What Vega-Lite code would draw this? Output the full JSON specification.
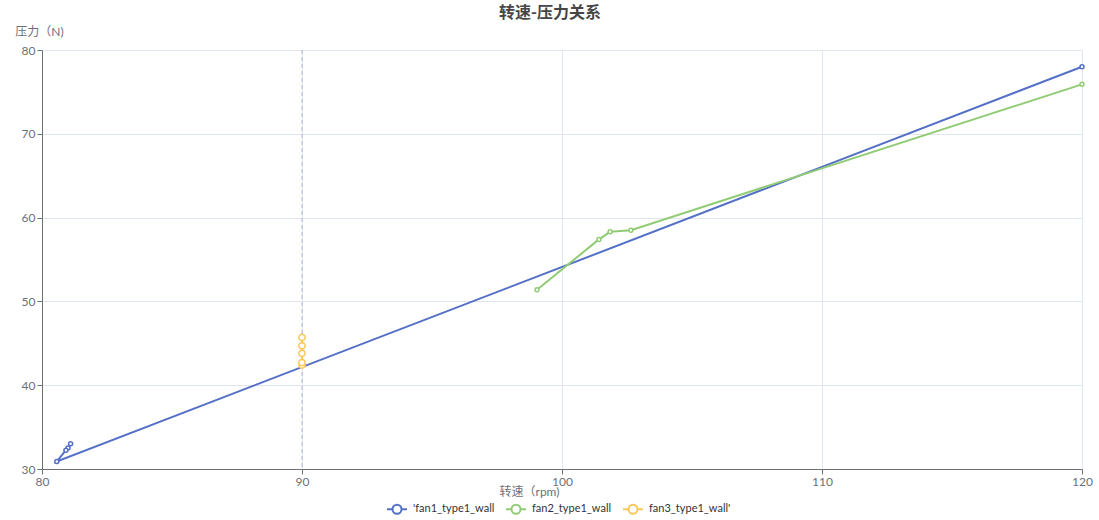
{
  "$schema": "https://vega.github.io/schema/vega-lite/v6.json",
  "autosize": "none",
  "width": 1040,
  "height": 419,
  "padding": {"left": 42, "top": 50, "right": 17, "bottom": 51},
  "background": "white",
  "title": {
    "text": "转速-压力关系",
    "anchor": "middle",
    "frame": "group",
    "dx": -12,
    "fontSize": 16,
    "fontWeight": "bold",
    "color": "#464646",
    "font": "Noto Sans CJK SC"
  },
  "datasets": {
    "fans": [
      {"series": "'fan1_type1_wall", "idx": 0, "rpm": 81.1, "force": 33.0},
      {"series": "'fan1_type1_wall", "idx": 1, "rpm": 81.0, "force": 32.5},
      {"series": "'fan1_type1_wall", "idx": 2, "rpm": 80.92, "force": 32.25},
      {"series": "'fan1_type1_wall", "idx": 3, "rpm": 80.57, "force": 30.9},
      {"series": "'fan1_type1_wall", "idx": 4, "rpm": 120, "force": 78.0},
      {"series": "fan2_type1_wall", "idx": 0, "rpm": 99.04, "force": 51.4},
      {"series": "fan2_type1_wall", "idx": 1, "rpm": 101.42, "force": 57.4},
      {"series": "fan2_type1_wall", "idx": 2, "rpm": 101.85, "force": 58.3},
      {"series": "fan2_type1_wall", "idx": 3, "rpm": 102.65, "force": 58.5},
      {"series": "fan2_type1_wall", "idx": 4, "rpm": 120, "force": 75.9},
      {"series": "fan3_type1_wall'", "idx": 0, "rpm": 90, "force": 42.4},
      {"series": "fan3_type1_wall'", "idx": 1, "rpm": 90, "force": 42.7},
      {"series": "fan3_type1_wall'", "idx": 2, "rpm": 90, "force": 43.8},
      {"series": "fan3_type1_wall'", "idx": 3, "rpm": 90, "force": 44.7},
      {"series": "fan3_type1_wall'", "idx": 4, "rpm": 90, "force": 45.7}
    ],
    "marker": [{"rpm": 90}]
  },
  "layer": [
    {
      "data": {"name": "marker"},
      "mark": {"type": "rule", "color": "#aeb2dc", "strokeDash": [4, 3], "strokeWidth": 1},
      "encoding": {
        "x": {"field": "rpm", "type": "quantitative"}
      }
    },
    {
      "data": {"name": "fans"},
      "encoding": {
        "x": {
          "field": "rpm",
          "type": "quantitative",
          "title": "转速（rpm)",
          "scale": {"domain": [80, 120], "nice": false, "zero": false},
          "axis": {"values": [80, 90, 100, 110, 120], "labelFlush": false, "titleX": 487, "titleY": 22, "titleBaseline": "middle", "titleAnchor": null}
        },
        "y": {
          "field": "force",
          "type": "quantitative",
          "title": "压力（N)",
          "scale": {"domain": [30, 80], "nice": false, "zero": false},
          "axis": {"values": [30, 40, 50, 60, 70, 80], "labelFlush": false, "titleAngle": 0, "titleX": -3, "titleY": -19, "titleAlign": "center", "titleBaseline": "middle"}
        },
        "color": {
          "field": "series",
          "type": "nominal",
          "scale": {
            "domain": ["'fan1_type1_wall", "fan2_type1_wall", "fan3_type1_wall'"],
            "range": ["#5470c6", "#91cc75", "#fac858"]
          },
          "legend": {
            "title": null,
            "orient": "none",
            "direction": "horizontal",
            "legendX": 344,
            "legendY": 448
          }
        }
      },
      "layer": [
        {
          "mark": {"type": "line", "strokeWidth": 2},
          "encoding": {"order": {"field": "idx"}}
        },
        {
          "transform": [{"filter": "datum.series !== \"fan3_type1_wall'\""}],
          "mark": {"type": "point", "filled": false, "fill": "white", "fillOpacity": 1, "strokeWidth": 1.5, "opacity": 1, "size": 16}
        },
        {
          "transform": [{"filter": "datum.series === \"fan3_type1_wall'\""}],
          "mark": {"type": "point", "filled": false, "fill": "white", "fillOpacity": 1, "strokeWidth": 1.5, "opacity": 1, "size": 40}
        }
      ]
    }
  ],
  "config": {
    "font": "Lato, 'Noto Sans CJK SC'",
    "view": {"stroke": null},
    "axis": {
      "domainColor": "#6E7079",
      "tickColor": "#6E7079",
      "tickSize": 5,
      "labelColor": "#6E7079",
      "labelFontSize": 12,
      "labelPadding": 2,
      "labelFont": "Lato, 'Noto Sans CJK SC'",
      "gridColor": "#E0E6F1",
      "titleColor": "#6E7079",
      "titleFontSize": 12,
      "titleFontWeight": "normal",
      "titleFont": "Lato, 'Noto Sans CJK SC'"
    },
    "legend": {
      "labelFontSize": 11,
      "labelColor": "#333333",
      "labelFont": "Lato, 'Noto Sans CJK SC'",
      "labelOffset": 5,
      "columnPadding": 7,
      "symbolType": "M-1,0L-0.45,0M0.45,0L1,0M0.45,0A0.45,0.45,0,1,1,-0.45,0A0.45,0.45,0,1,1,0.45,0",
      "symbolSize": 400,
      "symbolStrokeWidth": 2,
      "symbolFillColor": "white",
      "symbolOpacity": 1
    }
  }
}
